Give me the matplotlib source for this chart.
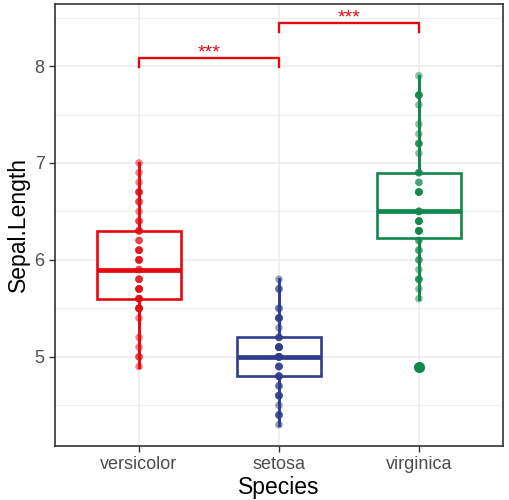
import matplotlib.pyplot as plt
import numpy as np

plt.rcParams['font.family'] = ['Liberation Sans', 'DejaVu Sans']

species = ['versicolor', 'setosa', 'virginica']
colors = ['#E3090F', '#2E3D8C', '#10874B']

versicolor = [7.0, 6.4, 6.9, 5.5, 6.5, 5.7, 6.3, 4.9, 6.6, 5.2, 5.0, 5.9, 6.0, 6.1, 5.6,
              6.7, 5.6, 5.8, 6.2, 5.6, 5.9, 6.1, 6.3, 6.1, 6.4, 6.6, 6.8, 6.7, 6.0, 5.7,
              5.5, 5.5, 5.8, 6.0, 5.4, 6.0, 6.7, 6.3, 5.6, 5.5, 5.5, 6.1, 5.8, 5.0, 5.6,
              5.7, 5.7, 6.2, 5.1, 5.7]
setosa = [5.1, 4.9, 4.7, 4.6, 5.0, 5.4, 4.6, 5.0, 4.4, 4.9, 5.4, 4.8, 4.8, 4.3, 5.8,
          5.7, 5.4, 5.1, 5.7, 5.1, 5.4, 5.1, 4.6, 5.1, 4.8, 5.0, 5.0, 5.2, 5.2, 4.7,
          4.8, 5.4, 5.2, 5.5, 4.9, 5.0, 5.5, 4.9, 4.4, 5.1, 5.0, 4.5, 4.4, 5.0, 5.1,
          4.8, 5.1, 4.6, 5.3, 5.0]
virginica = [6.3, 5.8, 7.1, 6.3, 6.5, 7.6, 4.9, 7.3, 6.7, 7.2, 6.5, 6.4, 6.8, 5.7, 5.8,
             6.4, 6.5, 7.7, 7.7, 6.0, 6.9, 5.6, 7.7, 6.3, 6.7, 7.2, 6.2, 6.1, 6.4, 7.2,
             7.4, 7.9, 6.4, 6.3, 6.1, 7.7, 6.3, 6.4, 6.0, 6.9, 6.7, 6.9, 5.8, 6.8, 6.7,
             6.7, 6.3, 6.5, 6.2, 5.9]
groups = [versicolor, setosa, virginica]

# comparisons: (group a, group b, bracket y, label)
comparisons = [(0, 1, 8.08, '***'), (1, 2, 8.44, '***')]

fig, ax = plt.subplots(figsize=(5.1, 5.0), dpi=100)
fig.subplots_adjust(left=0.108, right=0.986, top=0.992, bottom=0.108)

pos = [1, 2, 3]
for i, (vals, c) in enumerate(zip(groups, colors)):
    bp = ax.boxplot([vals], positions=[pos[i]], widths=0.6, patch_artist=True,
                    showfliers=True, whis=1.5, zorder=2,
                    boxprops=dict(facecolor='white', edgecolor=c, linewidth=1.9),
                    medianprops=dict(color=c, linewidth=3.4),
                    whiskerprops=dict(color=c, linewidth=2.1),
                    capprops=dict(linewidth=0),
                    flierprops=dict(marker='o', markerfacecolor=c, markeredgecolor=c,
                                    markersize=7, alpha=1.0))
    ax.scatter(np.full(len(vals), pos[i]), vals, s=30, color=c, alpha=0.5,
               edgecolors='none', zorder=3)

for a, b, y, lab in comparisons:
    ax.plot([pos[a], pos[a], pos[b], pos[b]], [y - 0.09, y, y, y - 0.09],
            color='#E3090F', linewidth=1.7, zorder=4)
    ax.text((pos[a] + pos[b]) / 2, y - 0.035, lab, color='#E3090F', fontsize=14,
            ha='center', va='bottom')

ax.set_xlim(0.4, 3.6)
ax.set_ylim(4.08, 8.64)
ax.set_xticks(pos)
ax.set_xticklabels(species)
ax.set_yticks([5, 6, 7, 8])
ax.set_yticks([4.5, 5.5, 6.5, 7.5, 8.5], minor=True)
ax.grid(which='major', color='#EBEBEB', linewidth=1.1, zorder=0)
ax.grid(which='minor', axis='y', color='#EBEBEB', linewidth=0.6, zorder=0)
ax.set_axisbelow(True)
ax.tick_params(axis='both', which='major', labelsize=13, labelcolor='#4D4D4D',
               color='#333333', length=4, width=1)
ax.tick_params(axis='y', which='minor', length=0)
for s in ax.spines.values():
    s.set_color('#333333')
    s.set_linewidth(1.2)

ax.set_xlabel('Species', fontsize=16.5, labelpad=2)
ax.set_ylabel('Sepal.Length', fontsize=16.5, labelpad=3)

plt.savefig('out.png', dpi=100)
plt.close()
